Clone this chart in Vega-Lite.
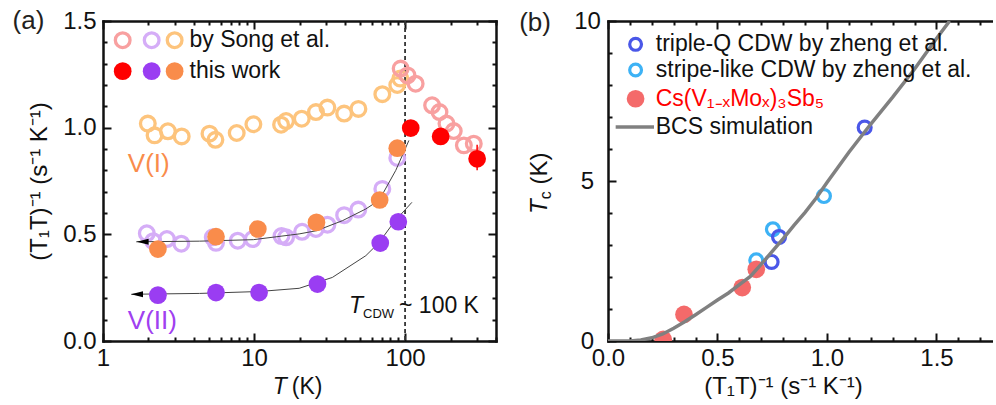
{
 "$schema": "https://vega.github.io/schema/vega-lite/v6.json",
 "background": "white",
 "padding": {"left": 12, "top": 8, "right": 0, "bottom": 0},
 "autosize": {"type": "pad"},
 "spacing": 22,
 "resolve": {"scale": {"stroke": "independent", "color": "independent"}},
 "config": {
  "font": "Liberation Sans",
  "view": {"stroke": null},
  "axis": {"grid": false, "labelFont": "Liberation Sans", "labelFontSize": 24, "labelColor": "#111", "titleFont": "Liberation Sans", "titleFontSize": 24, "titleFontWeight": "normal", "titleColor": "#111", "domainColor": "#111", "domainWidth": 2.5, "tickColor": "#111", "tickWidth": 2, "labelOverlap": false, "labelFlush": false, "domainCap": "square"},
  "text": {"font": "Liberation Sans", "color": "#111"}
 },
 "datasets": {
  "songA": [
   {"T":1.98,"v":1.019,"s":"songI"},{"T":2.195,"v":0.964,"s":"songI"},{"T":2.69,"v":0.983,"s":"songI"},{"T":3.32,"v":0.959,"s":"songI"},{"T":5.07,"v":0.972,"s":"songI"},{"T":5.55,"v":0.943,"s":"songI"},{"T":7.68,"v":0.975,"s":"songI"},{"T":9.9,"v":1.016,"s":"songI"},{"T":15.1,"v":1.014,"s":"songI"},{"T":16.3,"v":1.031,"s":"songI"},{"T":20.7,"v":1.042,"s":"songI"},{"T":25.7,"v":1.073,"s":"songI"},{"T":30.6,"v":1.094,"s":"songI"},{"T":39.5,"v":1.066,"s":"songI"},{"T":49.1,"v":1.088,"s":"songI"},{"T":70.7,"v":1.157,"s":"songI"},{"T":88.8,"v":1.2,"s":"songI"},{"T":93,"v":1.23,"s":"songI"},
   {"T":1.95,"v":0.505,"s":"songII"},{"T":2.15,"v":0.468,"s":"songII"},{"T":2.65,"v":0.478,"s":"songII"},{"T":3.3,"v":0.456,"s":"songII"},{"T":5.33,"v":0.486,"s":"songII"},{"T":5.6,"v":0.46,"s":"songII"},{"T":7.8,"v":0.47,"s":"songII"},{"T":9.8,"v":0.478,"s":"songII"},{"T":15.2,"v":0.492,"s":"songII"},{"T":16.3,"v":0.486,"s":"songII"},{"T":20.8,"v":0.512,"s":"songII"},{"T":25.7,"v":0.525,"s":"songII"},{"T":30.6,"v":0.545,"s":"songII"},{"T":39.5,"v":0.59,"s":"songII"},{"T":49,"v":0.616,"s":"songII"},{"T":70.7,"v":0.713,"s":"songII"},{"T":88.8,"v":0.858,"s":"songII"},
   {"T":93.5,"v":1.277,"s":"songHT"},{"T":103.8,"v":1.245,"s":"songHT"},{"T":117.5,"v":1.206,"s":"songHT"},{"T":151,"v":1.105,"s":"songHT"},{"T":169,"v":1.073,"s":"songHT"},{"T":188,"v":1.019,"s":"songHT"},{"T":210,"v":0.984,"s":"songHT"},{"T":245,"v":0.917,"s":"songHT"},{"T":285,"v":0.925,"s":"songHT"}
  ],
  "workA": [
   {"T":2.31,"v":0.215,"s":"workII"},{"T":5.6,"v":0.227,"s":"workII"},{"T":10.8,"v":0.227,"s":"workII"},{"T":26.3,"v":0.267,"s":"workII"},{"T":68.5,"v":0.459,"s":"workII"},{"T":90.2,"v":0.559,"s":"workII"},
   {"T":2.31,"v":0.431,"s":"workI"},{"T":5.6,"v":0.489,"s":"workI"},{"T":10.6,"v":0.525,"s":"workI"},{"T":25.9,"v":0.556,"s":"workI"},{"T":67.9,"v":0.661,"s":"workI"},{"T":88.8,"v":0.904,"s":"workI"},
   {"T":109,"v":0.998,"s":"workHT"},{"T":172,"v":0.959,"s":"workHT"},{"T":300,"v":0.854,"s":"workHT"}
  ],
  "fitA": [
   {"T":1.66,"v":0.465,"s":"fitI"},{"T":4.35,"v":0.468,"s":"fitI"},{"T":9.9,"v":0.475,"s":"fitI"},{"T":19.9,"v":0.502,"s":"fitI"},{"T":25.9,"v":0.517,"s":"fitI"},{"T":38.5,"v":0.564,"s":"fitI"},{"T":55,"v":0.619,"s":"fitI"},{"T":67.4,"v":0.66,"s":"fitI"},{"T":86.8,"v":0.8,"s":"fitI"},{"T":106,"v":0.94,"s":"fitI"},
   {"T":1.54,"v":0.219,"s":"fitII"},{"T":4.35,"v":0.223,"s":"fitII"},{"T":10.8,"v":0.232,"s":"fitII"},{"T":19.9,"v":0.247,"s":"fitII"},{"T":33,"v":0.298,"s":"fitII"},{"T":55,"v":0.4,"s":"fitII"},{"T":67,"v":0.46,"s":"fitII"},{"T":85,"v":0.56,"s":"fitII"},{"T":111,"v":0.65,"s":"fitII"}
  ],
  "zheng": [
   {"x":0.986,"Tc":4.53,"s":"stripe"},{"x":0.753,"Tc":3.49,"s":"stripe"},{"x":0.677,"Tc":2.52,"s":"stripe"},
   {"x":1.172,"Tc":6.67,"s":"triple-Q"},{"x":0.781,"Tc":3.25,"s":"triple-Q"},{"x":0.747,"Tc":2.47,"s":"triple-Q"}
  ],
  "cs": [{"x":0.252,"Tc":0.05},{"x":0.347,"Tc":0.83},{"x":0.613,"Tc":1.67},{"x":0.677,"Tc":2.24}],
  "bcs": [
   {"x":0,"Tc":0},{"x":0.1,"Tc":0},{"x":0.15,"Tc":0.03},{"x":0.2,"Tc":0.1},{"x":0.25,"Tc":0.22},{"x":0.3,"Tc":0.4},{"x":0.35,"Tc":0.6},{"x":0.4,"Tc":0.82},{"x":0.45,"Tc":1.05},{"x":0.5,"Tc":1.28},{"x":0.55,"Tc":1.5},{"x":0.6,"Tc":1.76},{"x":0.65,"Tc":2.02},{"x":0.7,"Tc":2.4},{"x":0.75,"Tc":2.8},{"x":0.8,"Tc":3.2},{"x":0.85,"Tc":3.62},{"x":0.9,"Tc":4.02},{"x":0.95,"Tc":4.46},{"x":1.0,"Tc":4.95},{"x":1.1,"Tc":5.9},{"x":1.2,"Tc":6.78},{"x":1.3,"Tc":7.62},{"x":1.4,"Tc":8.5},{"x":1.5,"Tc":9.45},{"x":1.56,"Tc":10.0}
  ]
 },
 "hconcat": [
  {
   "width": 393, "height": 320,
   "resolve": {"axis": {"x": "independent", "y": "independent"}},
   "layer": [
    {"data": {"values": [{"T": 100}]},
     "mark": {"type": "rule", "strokeDash": [4, 3], "color": "#333", "strokeWidth": 1.8},
     "encoding": {"x": {"field": "T", "type": "quantitative", "scale": {"type": "log", "domain": [1, 400], "nice": false}, "axis": null}}},
    {"data": {"name": "songA"},
     "mark": {"type": "point", "filled": false, "size": 216, "strokeWidth": 3.3, "opacity": 1},
     "encoding": {
      "x": {"field": "T", "type": "quantitative", "scale": {"type": "log", "domain": [1, 400], "nice": false},
            "axis": {"orient": "bottom", "values": [1, 10, 100], "format": "d", "tickSize": -8, "labelPadding": 13, "title": null}},
      "y": {"field": "v", "type": "quantitative", "scale": {"domain": [0, 1.5], "nice": false, "zero": false},
            "axis": {"orient": "left", "values": [0, 0.5, 1, 1.5], "format": ".1f", "tickSize": -8, "labelPadding": 15, "title": "(T₁T)⁻¹ (s⁻¹ K⁻¹)", "titlePadding": 11}},
      "stroke": {"field": "s", "type": "nominal", "scale": {"domain": ["songI", "songII", "songHT"], "range": ["#FDC47D", "#D5ADF7", "#F8A0A0"]}, "legend": null}
     }},
    {"data": {"name": "fitA"},
     "mark": {"type": "line", "color": "#444", "strokeWidth": 1},
     "encoding": {
      "x": {"field": "T", "type": "quantitative", "scale": {"type": "log", "domain": [1, 400], "nice": false},
            "axis": {"orient": "bottom", "values": [2,3,4,5,6,7,8,9,20,30,40,50,60,70,80,90,200,300,400], "labels": false, "domain": false, "tickSize": -4, "title": null}},
      "y": {"field": "v", "type": "quantitative", "scale": {"domain": [0, 1.5], "nice": false, "zero": false},
            "axis": {"orient": "left", "values": [0.1,0.2,0.3,0.4,0.6,0.7,0.8,0.9,1.1,1.2,1.3,1.4], "labels": false, "domain": false, "tickSize": -4, "title": null}},
      "detail": {"field": "s", "type": "nominal"}
     }},
    {"data": {"values": [{"T": 1.83, "v": 0.465}, {"T": 1.68, "v": 0.219}]},
     "mark": {"type": "point", "shape": "M -1 0 L 1 -0.5 L 1 0.5 Z", "filled": true, "color": "#000", "size": 144, "opacity": 1},
     "encoding": {
      "x": {"field": "T", "type": "quantitative", "scale": {"type": "log", "domain": [1, 400], "nice": false},
            "axis": {"orient": "top", "values": [1, 10, 100], "labels": false, "tickSize": -8, "title": null}},
      "y": {"field": "v", "type": "quantitative", "scale": {"domain": [0, 1.5], "nice": false, "zero": false},
            "axis": {"orient": "right", "values": [0, 0.5, 1, 1.5], "labels": false, "tickSize": -8, "title": null}}
     }},
    {"data": {"values": [{"T": 300, "v": 0.8, "v2": 0.92}]},
     "mark": {"type": "rule", "color": "#FF0000", "strokeWidth": 1.5},
     "encoding": {
      "x": {"field": "T", "type": "quantitative", "scale": {"type": "log", "domain": [1, 400], "nice": false}, "axis": null},
      "y": {"field": "v", "type": "quantitative", "scale": {"domain": [0, 1.5], "nice": false, "zero": false}, "axis": null},
      "y2": {"field": "v2"}
     }},
    {"data": {"name": "workA"},
     "mark": {"type": "point", "filled": true, "size": 314, "opacity": 1, "strokeWidth": 0},
     "encoding": {
      "x": {"field": "T", "type": "quantitative", "scale": {"type": "log", "domain": [1, 400], "nice": false},
            "axis": {"orient": "top", "values": [2,3,4,5,6,7,8,9,20,30,40,50,60,70,80,90,200,300,400], "labels": false, "domain": false, "tickSize": -4, "title": null}},
      "y": {"field": "v", "type": "quantitative", "scale": {"domain": [0, 1.5], "nice": false, "zero": false},
            "axis": {"orient": "right", "values": [0.1,0.2,0.3,0.4,0.6,0.7,0.8,0.9,1.1,1.2,1.3,1.4], "labels": false, "domain": false, "tickSize": -4, "title": null}},
      "color": {"field": "s", "type": "nominal", "scale": {"domain": ["workHT", "workII", "workI"], "range": ["#FF0000", "#9A3DF2", "#F98C4B"]}, "legend": null}
     }},
    {"data": {"values": [{"T": 1.35, "v": 1.41, "s": "songHT"}, {"T": 2.1, "v": 1.41, "s": "songII"}, {"T": 2.98, "v": 1.41, "s": "songI"}]},
     "mark": {"type": "point", "filled": false, "size": 216, "strokeWidth": 3.3, "opacity": 1},
     "encoding": {
      "x": {"field": "T", "type": "quantitative", "scale": {"type": "log", "domain": [1, 400], "nice": false}, "axis": null},
      "y": {"field": "v", "type": "quantitative", "scale": {"domain": [0, 1.5], "nice": false, "zero": false}, "axis": null},
      "stroke": {"field": "s", "type": "nominal", "scale": {"domain": ["songI", "songII", "songHT"], "range": ["#FDC47D", "#D5ADF7", "#F8A0A0"]}, "legend": null}
     }},
    {"data": {"values": [{"T": 1.35, "v": 1.265, "s": "workHT"}, {"T": 2.1, "v": 1.265, "s": "workII"}, {"T": 2.98, "v": 1.265, "s": "workI"}]},
     "mark": {"type": "point", "filled": true, "size": 314, "opacity": 1, "strokeWidth": 0},
     "encoding": {
      "x": {"field": "T", "type": "quantitative", "scale": {"type": "log", "domain": [1, 400], "nice": false}, "axis": null},
      "y": {"field": "v", "type": "quantitative", "scale": {"domain": [0, 1.5], "nice": false, "zero": false}, "axis": null},
      "color": {"field": "s", "type": "nominal", "scale": {"domain": ["workHT", "workII", "workI"], "range": ["#FF0000", "#9A3DF2", "#F98C4B"]}, "legend": null}
     }},
    {"data": {"values": [{"T": 3.74, "v": 1.41, "label": "by Song et al."}, {"T": 3.74, "v": 1.265, "label": "this work"}]},
     "mark": {"type": "text", "fontSize": 23, "align": "left", "baseline": "middle", "color": "#111"},
     "encoding": {
      "x": {"field": "T", "type": "quantitative", "scale": {"type": "log", "domain": [1, 400], "nice": false}, "axis": null},
      "y": {"field": "v", "type": "quantitative", "scale": {"domain": [0, 1.5], "nice": false, "zero": false}, "axis": null},
      "text": {"field": "label"}
     }},
    {"data": {"values": [{"T": 1.46, "v": 0.791, "label": "V(I)"}]},
     "mark": {"type": "text", "fontSize": 26, "align": "left", "baseline": "alphabetic", "color": "#F98C4B"},
     "encoding": {
      "x": {"field": "T", "type": "quantitative", "scale": {"type": "log", "domain": [1, 400], "nice": false}, "axis": null},
      "y": {"field": "v", "type": "quantitative", "scale": {"domain": [0, 1.5], "nice": false, "zero": false}, "axis": null},
      "text": {"field": "label"}
     }},
    {"data": {"values": [{"T": 1.46, "v": 0.055, "label": "V(II)"}]},
     "mark": {"type": "text", "fontSize": 26, "align": "left", "baseline": "alphabetic", "color": "#A040F0"},
     "encoding": {
      "x": {"field": "T", "type": "quantitative", "scale": {"type": "log", "domain": [1, 400], "nice": false}, "axis": null},
      "y": {"field": "v", "type": "quantitative", "scale": {"domain": [0, 1.5], "nice": false, "zero": false}, "axis": null},
      "text": {"field": "label"}
     }},
    {"data": {"values": [{"T": 0.321, "v": 1.5, "label": "(a)"}]},
     "mark": {"type": "text", "fontSize": 26, "align": "center", "baseline": "middle", "color": "#231F20"},
     "encoding": {
      "x": {"field": "T", "type": "quantitative", "scale": {"type": "log", "domain": [1, 400], "nice": false}, "axis": null},
      "y": {"field": "v", "type": "quantitative", "scale": {"domain": [0, 1.5], "nice": false, "zero": false}, "axis": null},
      "text": {"field": "label"}
     }},
    {"data": {"values": [{"T": 42.6, "v": 0.133, "label": "T"}, {"T": 13.3, "v": -0.248, "label": "T"}]},
     "mark": {"type": "text", "fontSize": 23, "fontStyle": "italic", "align": "left", "baseline": "alphabetic", "color": "#111"},
     "encoding": {
      "x": {"field": "T", "type": "quantitative", "scale": {"type": "log", "domain": [1, 400], "nice": false}, "axis": null},
      "y": {"field": "v", "type": "quantitative", "scale": {"domain": [0, 1.5], "nice": false, "zero": false}, "axis": null},
      "text": {"field": "label"}
     }},
    {"data": {"values": [{"T": 52.7, "v": 0.108, "label": "CDW"}]},
     "mark": {"type": "text", "fontSize": 13, "align": "left", "baseline": "alphabetic", "color": "#111"},
     "encoding": {
      "x": {"field": "T", "type": "quantitative", "scale": {"type": "log", "domain": [1, 400], "nice": false}, "axis": null},
      "y": {"field": "v", "type": "quantitative", "scale": {"domain": [0, 1.5], "nice": false, "zero": false}, "axis": null},
      "text": {"field": "label"}
     }},
    {"data": {"values": [{"T": 91.2, "v": 0.133, "label": "~ 100 K"}, {"T": 17.8, "v": -0.248, "label": "(K)"}]},
     "mark": {"type": "text", "fontSize": 23, "align": "left", "baseline": "alphabetic", "color": "#111"},
     "encoding": {
      "x": {"field": "T", "type": "quantitative", "scale": {"type": "log", "domain": [1, 400], "nice": false}, "axis": null},
      "y": {"field": "v", "type": "quantitative", "scale": {"domain": [0, 1.5], "nice": false, "zero": false}, "axis": null},
      "text": {"field": "label"}
     }}
   ]
  },
  {
   "width": 385, "height": 320,
   "resolve": {"axis": {"x": "independent", "y": "independent"}},
   "layer": [
    {"data": {"name": "zheng"},
     "mark": {"type": "point", "filled": false, "size": 167, "strokeWidth": 3.2, "opacity": 1},
     "encoding": {
      "x": {"field": "x", "type": "quantitative", "scale": {"domain": [0, 1.758], "nice": false, "zero": false},
            "axis": {"orient": "top", "values": [0, 0.5, 1, 1.5], "labels": false, "tickSize": -8, "title": null}},
      "y": {"field": "Tc", "type": "quantitative", "scale": {"domain": [0, 10], "nice": false},
            "axis": {"orient": "left", "values": [0, 5, 10], "format": "d", "tickSize": -8, "labelPadding": 29, "labelAlign": "center", "title": null}},
      "stroke": {"field": "s", "type": "nominal", "scale": {"domain": ["triple-Q", "stripe"], "range": ["#4A57E8", "#3DB2F5"]}, "legend": null}
     }},
    {"data": {"values": [{"x": 0.126, "Tc": 9.27, "s": "triple-Q"}, {"x": 0.126, "Tc": 8.47, "s": "stripe"}]},
     "mark": {"type": "point", "filled": false, "size": 139, "strokeWidth": 3.2, "opacity": 1},
     "encoding": {
      "x": {"field": "x", "type": "quantitative", "scale": {"domain": [0, 1.758], "nice": false, "zero": false},
            "axis": {"orient": "top", "values": [0.1,0.2,0.3,0.4,0.6,0.7,0.8,0.9,1.1,1.2,1.3,1.4,1.6,1.7], "labels": false, "domain": false, "tickSize": -4, "title": null}},
      "y": {"field": "Tc", "type": "quantitative", "scale": {"domain": [0, 10], "nice": false},
            "axis": {"orient": "left", "values": [1,2,3,4,6,7,8,9], "labels": false, "domain": false, "tickSize": -4, "title": null}},
      "stroke": {"field": "s", "type": "nominal", "scale": {"domain": ["triple-Q", "stripe"], "range": ["#4A57E8", "#3DB2F5"]}, "legend": null}
     }},
    {"data": {"name": "cs"},
     "mark": {"type": "point", "filled": true, "size": 314, "opacity": 1, "strokeWidth": 0, "color": "#F46A6A", "clip": true},
     "encoding": {
      "x": {"field": "x", "type": "quantitative", "scale": {"domain": [0, 1.758], "nice": false, "zero": false},
            "axis": {"orient": "bottom", "values": [0, 0.5, 1, 1.5], "format": ".1f", "tickSize": -8, "labelPadding": 13, "title": "(T₁T)⁻¹ (s⁻¹ K⁻¹)", "titlePadding": 4, "titleX": 175}},
      "y": {"field": "Tc", "type": "quantitative", "scale": {"domain": [0, 10], "nice": false}, "axis": null}
     }},
    {"data": {"values": [{"x": 0.126, "Tc": 7.57}]},
     "mark": {"type": "point", "filled": true, "size": 314, "opacity": 1, "strokeWidth": 0, "color": "#F46A6A"},
     "encoding": {
      "x": {"field": "x", "type": "quantitative", "scale": {"domain": [0, 1.758], "nice": false, "zero": false},
            "axis": {"orient": "bottom", "values": [0.1,0.2,0.3,0.4,0.6,0.7,0.8,0.9,1.1,1.2,1.3,1.4,1.6,1.7], "labels": false, "domain": false, "tickSize": -4, "title": null}},
      "y": {"field": "Tc", "type": "quantitative", "scale": {"domain": [0, 10], "nice": false}, "axis": null}
     }},
    {"data": {"name": "bcs"},
     "mark": {"type": "line", "color": "#808080", "strokeWidth": 3.5, "clip": true},
     "encoding": {
      "x": {"field": "x", "type": "quantitative", "scale": {"domain": [0, 1.758], "nice": false, "zero": false}, "axis": null},
      "y": {"field": "Tc", "type": "quantitative", "scale": {"domain": [0, 10], "nice": false}, "axis": null}
     }},
    {"data": {"values": [{"x": 0.035, "Tc": 6.69}, {"x": 0.21, "Tc": 6.69}]},
     "mark": {"type": "line", "color": "#808080", "strokeWidth": 3.5},
     "encoding": {
      "x": {"field": "x", "type": "quantitative", "scale": {"domain": [0, 1.758], "nice": false, "zero": false}, "axis": null},
      "y": {"field": "Tc", "type": "quantitative", "scale": {"domain": [0, 10], "nice": false}, "axis": null}
     }},
    {"data": {"values": [{"x": 0.218, "Tc": 9.27, "label": "triple-Q CDW by zheng et al."}, {"x": 0.218, "Tc": 8.47, "label": "stripe-like CDW by zheng et al."}, {"x": 0.218, "Tc": 6.69, "label": "BCS simulation"}]},
     "mark": {"type": "text", "fontSize": 23, "align": "left", "baseline": "middle", "color": "#111"},
     "encoding": {
      "x": {"field": "x", "type": "quantitative", "scale": {"domain": [0, 1.758], "nice": false, "zero": false}, "axis": null},
      "y": {"field": "Tc", "type": "quantitative", "scale": {"domain": [0, 10], "nice": false}, "axis": null},
      "text": {"field": "label"}
     }},
    {"data": {"values": [{"x": 0.218, "Tc": 7.57, "label": "Cs(V₁₋ₓMoₓ)₃Sb₅"}]},
     "mark": {"type": "text", "fontSize": 23, "align": "left", "baseline": "middle", "color": "#FF0000"},
     "encoding": {
      "x": {"field": "x", "type": "quantitative", "scale": {"domain": [0, 1.758], "nice": false, "zero": false}, "axis": null},
      "y": {"field": "Tc", "type": "quantitative", "scale": {"domain": [0, 10], "nice": false}, "axis": null},
      "text": {"field": "label"}
     }},
    {"data": {"values": [{"x": -0.333, "Tc": 9.94, "label": "(b)"}]},
     "mark": {"type": "text", "fontSize": 26, "align": "center", "baseline": "middle", "color": "#231F20"},
     "encoding": {
      "x": {"field": "x", "type": "quantitative", "scale": {"domain": [0, 1.758], "nice": false, "zero": false}, "axis": null},
      "y": {"field": "Tc", "type": "quantitative", "scale": {"domain": [0, 10], "nice": false}, "axis": null},
      "text": {"field": "label"}
     }},
    {"data": {"values": [{"x": -0.277, "Tc": 3.97, "label": "T"}]},
     "mark": {"type": "text", "fontSize": 24, "fontStyle": "italic", "angle": 270, "align": "left", "baseline": "alphabetic", "color": "#111"},
     "encoding": {
      "x": {"field": "x", "type": "quantitative", "scale": {"domain": [0, 1.758], "nice": false, "zero": false}, "axis": null},
      "y": {"field": "Tc", "type": "quantitative", "scale": {"domain": [0, 10], "nice": false}, "axis": null},
      "text": {"field": "label"}
     }},
    {"data": {"values": [{"x": -0.262, "Tc": 4.43, "label": "c"}]},
     "mark": {"type": "text", "fontSize": 16, "angle": 270, "align": "left", "baseline": "alphabetic", "color": "#111"},
     "encoding": {
      "x": {"field": "x", "type": "quantitative", "scale": {"domain": [0, 1.758], "nice": false, "zero": false}, "axis": null},
      "y": {"field": "Tc", "type": "quantitative", "scale": {"domain": [0, 10], "nice": false}, "axis": null},
      "text": {"field": "label"}
     }},
    {"data": {"values": [{"x": -0.277, "Tc": 4.89, "label": "(K)"}]},
     "mark": {"type": "text", "fontSize": 24, "angle": 270, "align": "left", "baseline": "alphabetic", "color": "#111"},
     "encoding": {
      "x": {"field": "x", "type": "quantitative", "scale": {"domain": [0, 1.758], "nice": false, "zero": false}, "axis": null},
      "y": {"field": "Tc", "type": "quantitative", "scale": {"domain": [0, 10], "nice": false}, "axis": null},
      "text": {"field": "label"}
     }}
   ]
  }
 ]
}
